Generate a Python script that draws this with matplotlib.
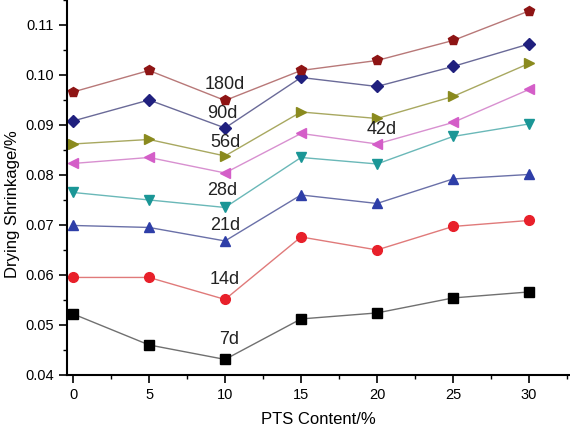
import matplotlib.pyplot as plt
from matplotlib.ticker import MultipleLocator

plt.rcParams['font.family'] = ['Liberation Sans', 'DejaVu Sans']

pts = [0, 5, 10, 15, 20, 25, 30]

d7 = [0.0522, 0.0460, 0.0431, 0.0512, 0.0524, 0.0554, 0.0566]
d14 = [0.0595, 0.0595, 0.0551, 0.0676, 0.0650, 0.0697, 0.0709]
d21 = [0.0699, 0.0695, 0.0668, 0.0760, 0.0743, 0.0792, 0.0801]
d28 = [0.0765, 0.0750, 0.0735, 0.0835, 0.0822, 0.0877, 0.0902]
d42 = [0.0823, 0.0835, 0.0804, 0.0883, 0.0862, 0.0905, 0.0971]
d56 = [0.0862, 0.0871, 0.0838, 0.0926, 0.0913, 0.0957, 0.1023]
d90 = [0.0908, 0.0950, 0.0894, 0.0995, 0.0977, 0.1017, 0.1062]
d180 = [0.0966, 0.1009, 0.0949, 0.1009, 0.1029, 0.1069, 0.1128]

# (values, marker, marker colour, line colour)
series = [
    (d7, 's', '#000000', '#707070'),
    (d14, 'o', '#e8202a', '#e07a7a'),
    (d21, '^', '#2e3ea8', '#6a70a8'),
    (d28, 'v', '#1a9696', '#6ab8b8'),
    (d42, '<', '#d45ec8', '#d890d0'),
    (d56, '>', '#8a8a1e', '#a8a860'),
    (d90, 'D', '#20207e', '#6a6a98'),
    (d180, 'p', '#8e1414', '#b87878'),
]

labels = ['7d', '14d', '21d', '28d', '42d', '56d', '90d', '180d']
label_pos = [(10.3, 0.0470), (10.0, 0.0590), (10.0, 0.0698), (9.8, 0.0768),
             (20.3, 0.0890), (10.0, 0.0865), (9.8, 0.0923), (10.0, 0.0980)]

fig = plt.figure(figsize=(5.7, 4.28), dpi=100)
ax = fig.add_axes([0.1175, 0.124, 0.8825, 0.876])

for vals, mk, mc, lc in series:
    ms = 6 if mk == 'D' else 7
    ax.plot(pts, vals, color=lc, lw=1.0, marker=mk, markersize=ms,
            markerfacecolor=mc, markeredgecolor=mc)

for txt, (x, y) in zip(labels, label_pos):
    ax.text(x, y, txt, fontsize=13, ha='center', va='center', color='#222222')

ax.set_xlim(-0.4, 32.7)
ax.set_ylim(0.04, 0.115)
ax.xaxis.set_major_locator(MultipleLocator(5))
ax.xaxis.set_minor_locator(MultipleLocator(2.5))
ax.yaxis.set_major_locator(MultipleLocator(0.01))
ax.yaxis.set_minor_locator(MultipleLocator(0.005))
ax.yaxis.set_major_formatter(plt.FormatStrFormatter('%.2f'))

ax.spines['top'].set_visible(False)
ax.spines['right'].set_visible(False)
ax.spines['left'].set_linewidth(1.5)
ax.spines['bottom'].set_linewidth(1.5)
ax.tick_params(which='major', direction='out', length=6, width=1.2, labelsize=10.5)
ax.tick_params(which='minor', direction='out', length=3, width=1.0)

ax.set_xlabel('PTS Content/%', fontsize=12, labelpad=7)
ax.set_ylabel('Drying Shrinkage/%', fontsize=12)
ax.yaxis.set_label_coords(-0.093, 0.456)

fig.savefig('out.png', dpi=100)
